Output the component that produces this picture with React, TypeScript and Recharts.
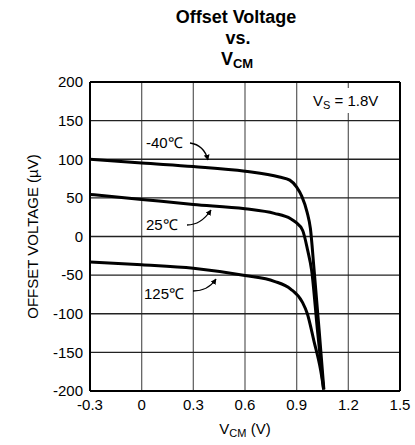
import { LineChart, Line, XAxis, YAxis, CartesianGrid, ReferenceLine } from "recharts";

const FONT = "'Liberation Sans', Arial, Helvetica, sans-serif";

const xTicks = [-0.3, 0, 0.3, 0.6, 0.9, 1.2, 1.5];
const yTicks = [-200, -150, -100, -50, 0, 50, 100, 150, 200];

// -40C
const vcmCold = [-0.3, 0, 0.3, 0.6, 0.8, 0.86, 0.9, 0.93, 0.96, 0.98, 1.0, 1.03, 1.058];
const osCold = [100, 95, 90.5, 84.5, 77, 73, 64, 52, 32, 10, -40, -120, -198];

// 25C
const vcmRoom = [-0.3, 0, 0.3, 0.6, 0.77, 0.865, 0.894, 0.935, 0.964, 0.987, 1.02, 1.056];
const osRoom = [54.5, 48, 41.5, 36, 30, 23, 18.5, 7.8, -18, -44, -120, -198];

// 125C
const vcmHot = [-0.3, 0, 0.3, 0.6, 0.77, 0.865, 0.933, 0.962, 1.0, 1.04, 1.057];
const osHot = [-33, -36.5, -41, -50.5, -58, -68, -85, -100, -135, -174, -198];

const toRows = (xs: number[], ys: number[]) => xs.map((x, i) => ({ x, y: ys[i] }));

const coldData = toRows(vcmCold, osCold);
const roomData = toRows(vcmRoom, osRoom);
const hotData = toRows(vcmHot, osHot);

const fmtX = (v: number) => (v === 0 ? "0" : v.toFixed(1));

const XLabel = (props: any) => {
  const vb = props.viewBox || { x: 90, y: 391, width: 310 };
  return (
    <text
      x={vb.x + vb.width / 2}
      y={vb.y + 43}
      textAnchor="middle"
      fontFamily={FONT}
      fontSize={15}
      fill="#000"
    >
      V<tspan fontSize={11} dy={3}>CM</tspan>
      <tspan dy={-3}> (V)</tspan>
    </text>
  );
};

export default function App() {
  return (
    <div style={{ position: "relative", width: 415, height: 445, background: "#fff" }}>
      <style>{`body{margin:0}`}</style>
      <LineChart
        width={415}
        height={445}
        margin={{ top: 82, right: 15, bottom: 0, left: 0 }}
      >
        <CartesianGrid horizontal={false} stroke="#666" strokeWidth={1.3} />
        <CartesianGrid vertical={false} stroke="#222" strokeWidth={1.3} />
        <XAxis
          type="number"
          dataKey="x"
          domain={[-0.3, 1.5]}
          ticks={xTicks}
          tickFormatter={fmtX}
          height={54}
          tickSize={0}
          tickMargin={8}
          axisLine={false}
          tick={{ fontSize: 15, fill: "#000", fontFamily: FONT }}
          allowDataOverflow
          label={{ content: XLabel }}
        />
        <YAxis
          type="number"
          dataKey="y"
          domain={[-200, 200]}
          ticks={yTicks}
          width={90}
          tickSize={0}
          tickMargin={7}
          axisLine={false}
          tick={{ fontSize: 15, fill: "#000", fontFamily: FONT }}
          allowDataOverflow
          label={{
            value: "OFFSET VOLTAGE (µV)",
            angle: -90,
            position: "center",
            dx: -12,
            style: { fontSize: 15, fill: "#000", fontFamily: FONT },
          }}
        />
        <ReferenceLine y={200} stroke="#000" strokeWidth={2} />
        <ReferenceLine y={-200} stroke="#000" strokeWidth={2} />
        <ReferenceLine x={-0.3} stroke="#000" strokeWidth={2} />
        <ReferenceLine x={1.5} stroke="#000" strokeWidth={2} />
        <Line
          data={coldData}
          dataKey="y"
          type="monotone"
          stroke="#000"
          strokeWidth={3}
          dot={false}
          isAnimationActive={false}
        />
        <Line
          data={roomData}
          dataKey="y"
          type="monotone"
          stroke="#000"
          strokeWidth={3}
          dot={false}
          isAnimationActive={false}
        />
        <Line
          data={hotData}
          dataKey="y"
          type="monotone"
          stroke="#000"
          strokeWidth={3}
          dot={false}
          isAnimationActive={false}
        />
      </LineChart>
      <svg
        width={415}
        height={445}
        style={{ position: "absolute", left: 0, top: 0, pointerEvents: "none" }}
        fontFamily={FONT}
      >
        <defs>
          <marker
            id="ah"
            viewBox="0 0 10 10"
            refX="9"
            refY="5"
            markerWidth="4.5"
            markerHeight="4.5"
            orient="auto"
            markerUnits="strokeWidth"
          >
            <path d="M0,0 L10,5 L0,10 z" fill="#000" />
          </marker>
        </defs>
        <text x={236} y={23} textAnchor="middle" fontSize={18} fontWeight="bold">
          Offset Voltage
        </text>
        <text x={238} y={44} textAnchor="middle" fontSize={18} fontWeight="bold">
          vs.
        </text>
        <text x={237} y={65} textAnchor="middle" fontSize={18} fontWeight="bold">
          V<tspan fontSize={13} dy={3}>CM</tspan>
        </text>

        <rect x={311} y={88} width={76} height={25} fill="#fff" />
        <text x={313} y={106} fontSize={15}>
          V<tspan fontSize={11} dy={3}>S</tspan>
          <tspan dy={-3}> = 1.8V</tspan>
        </text>

        <text x={146} y={148} fontSize={15}>-40℃</text>
        <path d="M190,143 Q204,145 208,160" stroke="#000" strokeWidth={1.3} fill="none" markerEnd="url(#ah)" />

        <text x={146} y={230} fontSize={15}>25℃</text>
        <path d="M187,225 Q201,225 211,210" stroke="#000" strokeWidth={1.3} fill="none" markerEnd="url(#ah)" />

        <text x={144} y={299} fontSize={15}>125℃</text>
        <path d="M193,291 Q208,291 216,279" stroke="#000" strokeWidth={1.3} fill="none" markerEnd="url(#ah)" />
      </svg>
    </div>
  );
}
